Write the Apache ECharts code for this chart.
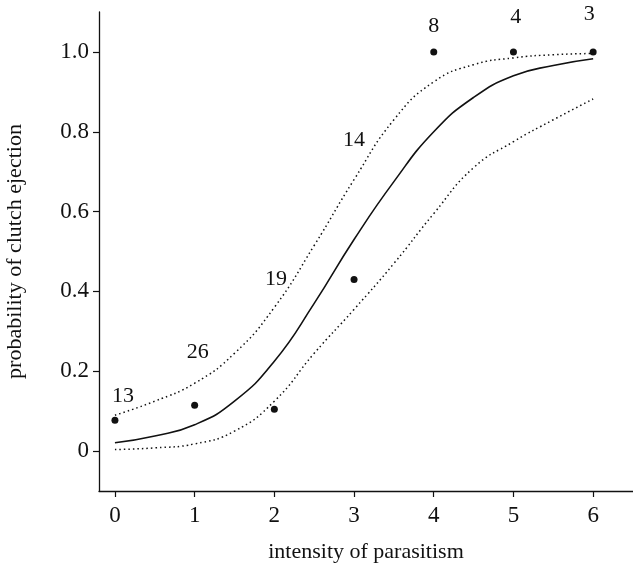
<!DOCTYPE html>
<html>
<head>
<meta charset="utf-8">
<script src="https://cdn.jsdelivr.net/npm/echarts@6/dist/echarts.min.js"></script>
<style>
  html, body { margin: 0; padding: 0; background: #fff; }
  #chart { width: 633px; height: 566px; }
</style>
</head>
<body>
<div id="chart"></div>
<script>
// observed proportions
var obsX = [0, 1, 2, 3, 4, 5, 6];
var obsY = [0.077, 0.115, 0.105, 0.43, 1.0, 1.0, 1.0];

// fitted curve and confidence band
var curveX = [0, 0.5, 1, 1.5, 2, 2.5, 3, 3.5, 4, 4.5, 5, 5.5, 6];
var fitY   = [0.021, 0.038, 0.066, 0.125, 0.225, 0.37, 0.53, 0.675, 0.80, 0.886, 0.94, 0.966, 0.983];
var upperY = [0.09, 0.125, 0.17, 0.245, 0.36, 0.515, 0.68, 0.83, 0.925, 0.968, 0.985, 0.993, 0.996];
var lowerY = [0.004, 0.008, 0.018, 0.05, 0.125, 0.245, 0.355, 0.47, 0.595, 0.71, 0.775, 0.83, 0.882];

// sample sizes written above the points
var nText = ["13", "26", "19", "14", "8", "4", "3"];
var nX = [0.1, 1.04, 2.02, 3.0, 4.0, 5.03, 5.95];
var nY = [0.1375, 0.248, 0.43, 0.78, 1.065, 1.088, 1.094];

var xTicks = [0, 1, 2, 3, 4, 5, 6];
var yTicks = [0, 0.2, 0.4, 0.6, 0.8, 1.0];

function pairs(xs, ys) {
  return xs.map(function (x, i) { return [x, ys[i]]; });
}

var font = "Liberation Serif";
var ink = "#111";

var chart = echarts.init(document.getElementById("chart"));
var option = {
  animation: false,
  backgroundColor: "#fff",
  grid: { left: 99, right: 0, top: 12, bottom: 75, outerBoundsMode: "none" },
  xAxis: {
    type: "value",
    min: -0.2,
    max: 6.5,
    name: "intensity of parasitism",
    nameLocation: "middle",
    nameGap: 50,
    nameTextStyle: { fontFamily: font, fontSize: 22, color: ink },
    splitLine: { show: false },
    axisLine: { onZero: false, lineStyle: { color: ink, width: 1.3 } },
    axisTick: { customValues: xTicks, length: 6, lineStyle: { color: ink, width: 1.2 } },
    axisLabel: { customValues: xTicks, margin: 13, fontFamily: font, fontSize: 23, color: ink }
  },
  yAxis: {
    type: "value",
    min: -0.1,
    max: 1.1,
    name: "probability of clutch ejection",
    nameLocation: "middle",
    nameGap: 73,
    nameTextStyle: { fontFamily: font, fontSize: 22, color: ink },
    splitLine: { show: false },
    axisLine: { onZero: false, lineStyle: { color: ink, width: 1.3 } },
    axisTick: { customValues: yTicks, length: 6, lineStyle: { color: ink, width: 1.2 } },
    axisLabel: {
      customValues: yTicks,
      margin: 10,
      fontFamily: font,
      fontSize: 23,
      color: ink,
      formatter: function (v) { return v === 0 ? "0" : v.toFixed(1); }
    }
  },
  series: [
    {
      name: "upper",
      type: "line",
      smooth: true,
      symbol: "none",
      data: pairs(curveX, upperY),
      lineStyle: { color: ink, width: 1.5, type: [1.5, 3] }
    },
    {
      name: "lower",
      type: "line",
      smooth: true,
      symbol: "none",
      data: pairs(curveX, lowerY),
      lineStyle: { color: ink, width: 1.5, type: [1.5, 3] }
    },
    {
      name: "fit",
      type: "line",
      smooth: true,
      symbol: "none",
      data: pairs(curveX, fitY),
      lineStyle: { color: ink, width: 1.6 }
    },
    {
      name: "observed",
      type: "scatter",
      symbolSize: 7,
      itemStyle: { color: ink, opacity: 1 },
      data: pairs(obsX, obsY)
    },
    {
      name: "n",
      type: "scatter",
      symbolSize: 0,
      itemStyle: { opacity: 1 },
      data: nX.map(function (x, i) { return { value: [x, nY[i]], name: nText[i] }; }),
      label: {
        show: true,
        position: "inside",
        formatter: "{b}",
        fontFamily: font,
        fontSize: 22,
        color: ink
      }
    }
  ]
};
chart.setOption(option);
</script>
</body>
</html>
